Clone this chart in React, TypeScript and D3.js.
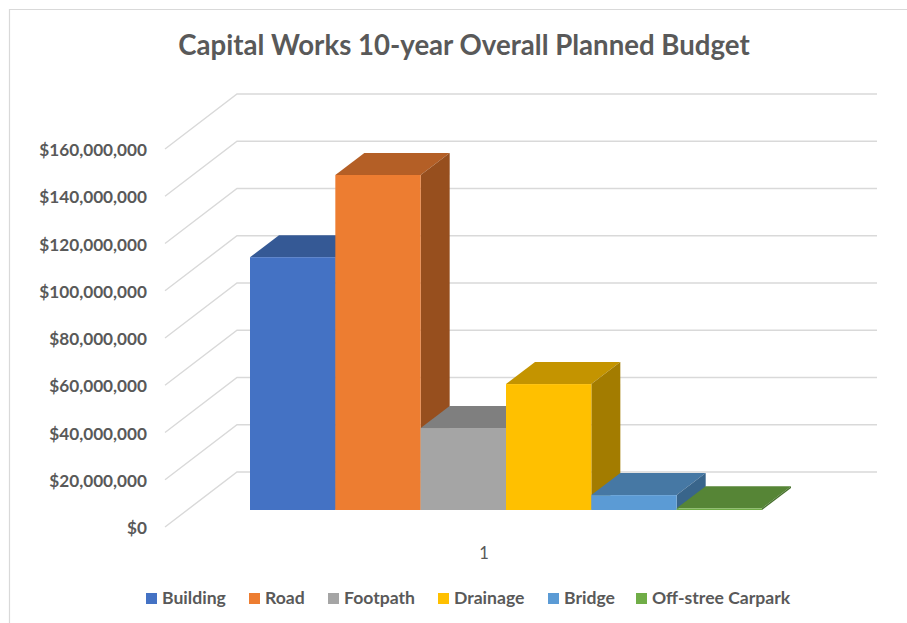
import React from "react";
import * as d3 from "d3";

const categories = ["Building", "Road", "Footpath", "Drainage", "Bridge", "Off-stree Carpark"];
const budgets = [107000000, 141800000, 34700000, 53300000, 6300000, 700000];
const frontColors = ["#4472c4", "#ed7d31", "#a5a5a5", "#ffc000", "#5b9bd5", "#70ad47"];
const topColors = ["#355995", "#b45f26", "#7f7f7f", "#c49400", "#4678a4", "#568536"];
const sideColors = ["#2b4a80", "#974f1e", "#666666", "#a37c00", "#39658b", "#47702d"];
const ticks = [0, 20000000, 40000000, 60000000, 80000000, 100000000, 120000000, 140000000, 160000000];
const legendX = [146, 249, 328, 438, 548, 636];
const xLabel = "1";
const title = "Capital Works 10-year Overall Planned Budget";

const FONT = "Lato, 'Open Sans', sans-serif";
const TEXT = "#595959";

const y = d3.scaleLinear().domain([0, 160000000]).range([527, 149]);
const x = d3.scaleBand<string>().domain(categories).range([250, 762]);
const floorShift = 17; // front plane of bars sits above the label plane
const depthX = 29;
const depthY = 22;
const wallX = 72;
const wallY = 55;
const fmt = (v: number) => "$" + d3.format(",")(v);
const poly = d3.line();

export default function App() {
  return (
    <svg
      width={907}
      height={623}
      style={{ position: "absolute", left: 0, top: 0, background: "#fff", fontFamily: FONT }}
    >
      <path d="M9.5 623V9.5H907" fill="none" stroke="#d9d9d9" strokeWidth={1.2} />
      <text x={464} y={55} textAnchor="middle" fontSize={27.6} fontWeight={700} fill={TEXT}>
        {title}
      </text>
      {ticks.map((t) => {
        const f = y(t);
        const path = poly([
          [165, f],
          [165 + wallX, f - wallY],
          [877, f - wallY],
        ]);
        return (
          <g key={t}>
            <path d={path ?? ""} fill="none" stroke="#d9d9d9" strokeWidth={1.4} />
            <text x={147} y={f + 7} textAnchor="end" fontSize={17.2} fontWeight={700} fill={TEXT}>
              {fmt(t)}
            </text>
          </g>
        );
      })}
      {categories.map((c, i) => {
        const x0 = x(c) as number;
        const x1 = x0 + x.bandwidth();
        const base = y(0) - floorShift;
        const top = base - (y(0) - y(budgets[i]));
        return (
          <g key={c}>
            <path
              d={poly([[x0, top], [x0 + depthX, top - depthY], [x1 + depthX, top - depthY], [x1, top]]) + "Z"}
              fill={topColors[i]}
            />
            <path
              d={poly([[x1, top], [x1 + depthX, top - depthY], [x1 + depthX, base - depthY], [x1, base]]) + "Z"}
              fill={sideColors[i]}
            />
            <rect x={x0} y={top} width={x.bandwidth()} height={base - top} fill={frontColors[i]} />
          </g>
        );
      })}
      <text x={484} y={559} textAnchor="middle" fontSize={16.5} fill={TEXT}>
        {xLabel}
      </text>
      {categories.map((c, i) => (
        <g key={c}>
          <rect x={legendX[i]} y={593} width={11} height={11} fill={frontColors[i]} />
          <text x={legendX[i] + 16} y={604} fontSize={17.6} fontWeight={700} fill={TEXT}>
            {c}
          </text>
        </g>
      ))}
    </svg>
  );
}
